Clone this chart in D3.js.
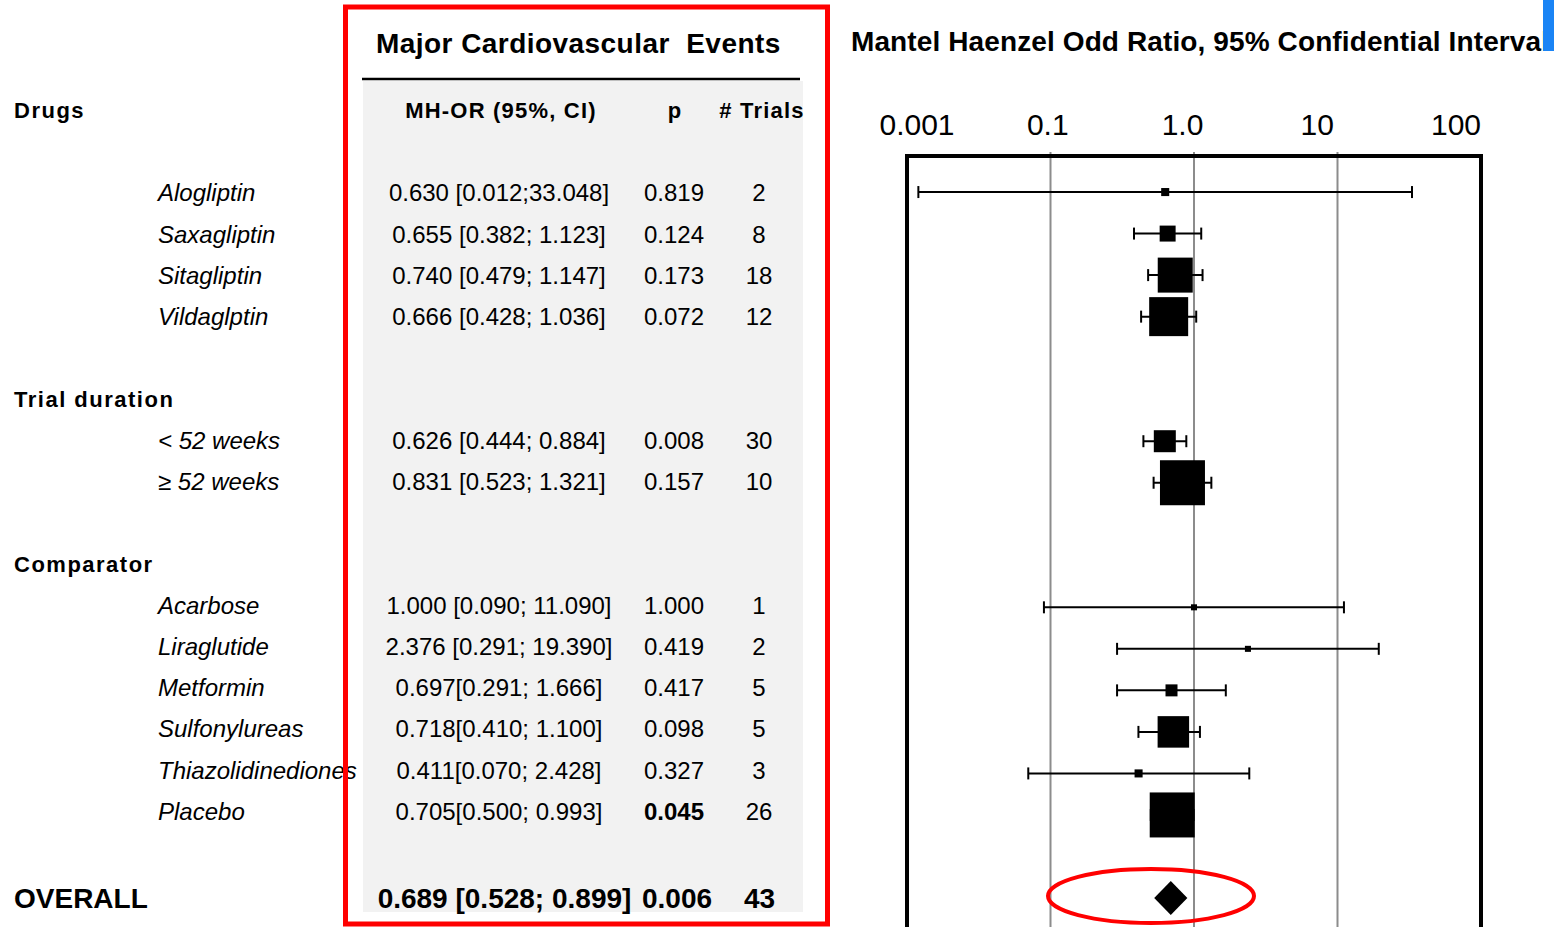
<!DOCTYPE html>
<html>
<head>
<meta charset="utf-8">
<script src="https://cdn.jsdelivr.net/npm/d3@7"></script>
<style>
  html, body { margin: 0; padding: 0; background: #ffffff; }
  svg { display: block; font-family: "Liberation Sans", Arial, sans-serif; }
  text { white-space: pre; }
</style>
</head>
<body>
<script>
// ---- Data ----------------------------------------------------------------
const sectionLabels = ["Drugs", "Trial duration", "Comparator"];
const sectionRows   = [0, 7, 11];

const rowLabels = ["Alogliptin", "Saxagliptin", "Sitagliptin", "Vildaglptin",
                   "< 52 weeks", "\u2265 52 weeks",
                   "Acarbose", "Liraglutide", "Metformin", "Sulfonylureas",
                   "Thiazolidinediones", "Placebo"];
const rowIndex  = [2, 3, 4, 5, 8, 9, 12, 13, 14, 15, 16, 17];
const orValues  = [0.630, 0.655, 0.740, 0.666, 0.626, 0.831, 1.000, 2.376, 0.697, 0.718, 0.411, 0.705];
const ciLower   = [0.012, 0.382, 0.479, 0.428, 0.444, 0.523, 0.090, 0.291, 0.291, 0.410, 0.070, 0.500];
const ciUpper   = [33.048, 1.123, 1.147, 1.036, 0.884, 1.321, 11.090, 19.390, 1.666, 1.100, 2.428, 0.993];
const orText    = ["0.630 [0.012;33.048]", "0.655 [0.382; 1.123]", "0.740 [0.479; 1.147]",
                   "0.666 [0.428; 1.036]", "0.626 [0.444; 0.884]", "0.831 [0.523; 1.321]",
                   "1.000 [0.090; 11.090]", "2.376 [0.291; 19.390]", "0.697[0.291; 1.666]",
                   "0.718[0.410; 1.100]", "0.411[0.070; 2.428]", "0.705[0.500; 0.993]"];
const pValues   = ["0.819", "0.124", "0.173", "0.072", "0.008", "0.157",
                   "1.000", "0.419", "0.417", "0.098", "0.327", "0.045"];
const pBold     = [false, false, false, false, false, false, false, false, false, false, false, true];
const trials    = [2, 8, 18, 12, 30, 10, 1, 2, 5, 5, 3, 26];
// relative study weight (marker area)
const markerWeight = [3.2, 12.6, 60.5, 75.1, 23.9, 100, 1.8, 1.8, 7.1, 49, 3.2, 100];

const overallOR = 0.689, overallLower = 0.528, overallUpper = 0.899;
const overallText = "0.689 [0.528; 0.899]", overallP = "0.006", overallTrials = 43;
const overallRow = 19;

const tickValues = [0.01, 0.1, 1, 10, 100];
const tickLabels = ["0.001", "0.1", "1.0", "10", "100"];
const gridValues = [0.1, 1, 10];

// ---- Layout --------------------------------------------------------------
const W = 1554, H = 927;
const svg = d3.select("body").append("svg").attr("width", W).attr("height", H);

const textY = d3.scaleLinear().domain([0, 19]).range([110.6, 893.8]);
const markY = d3.scaleLinear().domain([0, 19]).range([109, 898]);
const x = d3.scaleLog().domain([0.01, 100]).range([907, 1481]);
const size = d3.scaleSqrt().domain([0, 100]).range([0, 45]);

// ---- Table panel ---------------------------------------------------------
svg.append("rect").attr("x", 363).attr("y", 81).attr("width", 440).attr("height", 831)
  .attr("fill", "#f2f2f2");
svg.append("line").attr("x1", 362).attr("x2", 800).attr("y1", 79).attr("y2", 79)
  .attr("stroke", "#000").attr("stroke-width", 2.5);

svg.append("text").attr("x", 376).attr("y", 53)
  .attr("font-size", 28).attr("font-weight", "bold").attr("letter-spacing", 0.45)
  .text("Major Cardiovascular  Events");

const colHead = svg.append("g").attr("font-size", 22).attr("font-weight", "bold")
  .attr("letter-spacing", 1.2).attr("text-anchor", "middle");
colHead.append("text").attr("x", 501).attr("y", textY(0)).attr("dy", "0.35em").text("MH-OR (95%, CI)");
colHead.append("text").attr("x", 675).attr("y", textY(0)).attr("dy", "0.35em").text("p");
colHead.append("text").attr("x", 762).attr("y", textY(0)).attr("dy", "0.35em").text("# Trials");

// section headings
svg.append("g").selectAll("text").data(sectionLabels).join("text")
  .attr("x", 14).attr("y", (d, i) => textY(sectionRows[i])).attr("dy", "0.35em")
  .attr("font-size", 22).attr("font-weight", "bold").attr("letter-spacing", 1.5)
  .text(d => d);

// row labels and values
const rows = svg.append("g").selectAll("g").data(rowLabels).join("g")
  .attr("transform", (d, i) => `translate(0,${textY(rowIndex[i])})`)
  .attr("font-size", 24);
rows.append("text").attr("x", 158).attr("dy", "0.35em").attr("font-style", "italic")
  .text(d => d);
rows.append("text").attr("x", 499).attr("dy", "0.35em").attr("text-anchor", "middle")
  .text((d, i) => orText[i]);
rows.append("text").attr("x", 674).attr("dy", "0.35em").attr("text-anchor", "middle")
  .attr("font-weight", (d, i) => pBold[i] ? "bold" : "normal")
  .text((d, i) => pValues[i]);
rows.append("text").attr("x", 759).attr("dy", "0.35em").attr("text-anchor", "middle")
  .text((d, i) => trials[i]);

// overall row
const ov = svg.append("g").attr("transform", `translate(0,${markY(overallRow)})`)
  .attr("font-size", 28).attr("font-weight", "bold");
ov.append("text").attr("x", 14).attr("dy", "0.35em").text("OVERALL");
ov.append("text").attr("x", 504.5).attr("dy", "0.35em").attr("text-anchor", "middle").text(overallText);
ov.append("text").attr("x", 677).attr("dy", "0.35em").attr("text-anchor", "middle").text(overallP);
ov.append("text").attr("x", 759.5).attr("dy", "0.35em").attr("text-anchor", "middle").text(overallTrials);

// red highlight frame around the table
svg.append("rect").attr("x", 345.5).attr("y", 7).attr("width", 482).attr("height", 917)
  .attr("fill", "none").attr("stroke", "#ff0000").attr("stroke-width", 5);

// ---- Forest plot ---------------------------------------------------------
svg.append("defs").append("clipPath").attr("id", "titleClip")
  .append("rect").attr("x", 0).attr("y", 0).attr("width", 1543).attr("height", 80);
svg.append("text").attr("x", 851).attr("y", 51).attr("clip-path", "url(#titleClip)")
  .attr("font-size", 28).attr("font-weight", "bold")
  .attr("textLength", 698).attr("lengthAdjust", "spacing")
  .text("Mantel Haenzel Odd Ratio, 95% Confidential Interval");
svg.append("rect").attr("x", 1543).attr("y", 0).attr("width", 11).attr("height", 51)
  .attr("fill", "#1a84f5");

// tick labels
const labelPos = d3.scalePoint().domain(tickLabels).range([917, 1456]);
svg.append("g").attr("font-size", 30).attr("text-anchor", "middle")
  .selectAll("text").data(tickValues).join("text")
  .attr("x", (d, i) => labelPos(tickLabels[i]) - (i > 0 && i < 4 ? 4 : 0)).attr("y", 135)
  .text((d, i) => tickLabels[i]);

// grid lines
svg.append("g").selectAll("line").data(gridValues).join("line")
  .attr("x1", d => x(d)).attr("x2", d => x(d)).attr("y1", 152).attr("y2", H)
  .attr("stroke", "#8c8c8c").attr("stroke-width", 2);

// plot frame (open at the bottom)
svg.append("path")
  .attr("d", `M${x(0.01)},${H} L${x(0.01)},156 L${x(100)},156 L${x(100)},${H}`)
  .attr("fill", "none").attr("stroke", "#000").attr("stroke-width", 4);

// confidence intervals
const ci = svg.append("g").attr("stroke", "#000").attr("stroke-width", 2)
  .selectAll("g").data(orValues).join("g")
  .attr("transform", (d, i) => `translate(0,${markY(rowIndex[i])})`);
ci.append("line").attr("x1", (d, i) => x(ciLower[i])).attr("x2", (d, i) => x(ciUpper[i]));
ci.append("line").attr("x1", (d, i) => x(ciLower[i])).attr("x2", (d, i) => x(ciLower[i]))
  .attr("y1", -6).attr("y2", 6);
ci.append("line").attr("x1", (d, i) => x(ciUpper[i])).attr("x2", (d, i) => x(ciUpper[i]))
  .attr("y1", -6).attr("y2", 6);

// point estimates, square area by weight
svg.append("g").selectAll("rect").data(orValues).join("rect")
  .attr("x", (d, i) => x(d) - size(markerWeight[i]) / 2)
  .attr("y", (d, i) => markY(rowIndex[i]) - size(markerWeight[i]) / 2)
  .attr("width", (d, i) => size(markerWeight[i]))
  .attr("height", (d, i) => size(markerWeight[i]))
  .attr("fill", "#000");

// overall diamond spanning the pooled interval
const dy0 = markY(overallRow);
svg.append("path")
  .attr("d", `M${x(overallLower)},${dy0} L${x(overallOR)},${dy0 - 17} L${x(overallUpper)},${dy0} L${x(overallOR)},${dy0 + 17} Z`)
  .attr("fill", "#000");

// highlight around the pooled estimate
svg.append("ellipse").attr("cx", 1151).attr("cy", 896).attr("rx", 103).attr("ry", 27)
  .attr("fill", "none").attr("stroke", "#ff0000").attr("stroke-width", 4);
</script>
</body>
</html>
